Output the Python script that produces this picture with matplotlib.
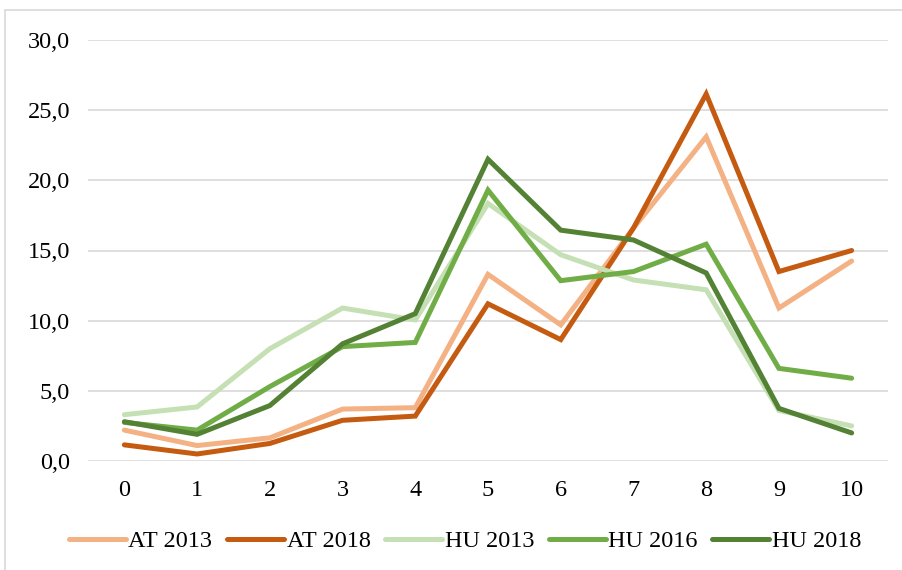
import matplotlib.pyplot as plt
from matplotlib.patches import Rectangle
from matplotlib.ticker import FuncFormatter

plt.rcParams['font.family'] = ['Liberation Serif', 'DejaVu Serif']

x = list(range(11))
at_2013 = [2.2, 1.1, 1.65, 3.7, 3.8, 13.3, 9.7, 16.6, 23.1, 10.9, 14.25]
at_2018 = [1.15, 0.5, 1.25, 2.9, 3.2, 11.2, 8.65, 16.6, 26.15, 13.5, 15.0]
hu_2013 = [3.3, 3.85, 8.0, 10.9, 10.05, 18.35, 14.7, 12.9, 12.2, 3.6, 2.5]
hu_2016 = [2.75, 2.2, 5.3, 8.15, 8.45, 19.3, 12.85, 13.5, 15.45, 6.6, 5.9]
hu_2018 = [2.8, 1.9, 3.95, 8.35, 10.5, 21.5, 16.45, 15.75, 13.4, 3.75, 2.0]

series = [
    ("AT 2013", at_2013, "#F4B183"),
    ("AT 2018", at_2018, "#C55A11"),
    ("HU 2013", hu_2013, "#C5E0B4"),
    ("HU 2016", hu_2016, "#70AD47"),
    ("HU 2018", hu_2018, "#548235"),
]

fig = plt.figure(figsize=(9.03, 5.70), dpi=100)
ax = fig.add_axes([88 / 903, 109 / 570, 800 / 903, 421 / 570])

# outer chart frame
fig.patches.append(Rectangle((5 / 903, -0.1), 1.2, (560 / 570) + 0.1,
                             transform=fig.transFigure, fill=False,
                             edgecolor="#D9D9D9", lw=1.2))

for name, vals, col in series:
    ax.plot(x, vals, color=col, lw=3.6, label=name, solid_capstyle="round",
            solid_joinstyle="miter")

ax.set_xlim(-0.5, 10.5)
ax.set_ylim(0, 30)
ax.set_xticks(x)
ax.set_yticks(range(0, 31, 5))
ax.yaxis.set_major_formatter(FuncFormatter(lambda v, p: f"{v:.1f}".replace(".", ",")))
ax.grid(axis="y", color="#D9D9D9", lw=1.2)
ax.set_axisbelow(True)
for s in ax.spines.values():
    s.set_visible(False)
ax.tick_params(length=0, labelsize=17.5, colors="black")
ax.tick_params(axis="y", pad=13)
ax.tick_params(axis="x", pad=14)

fig.legend(loc="center", bbox_to_anchor=(0.515, 29 / 570), ncol=5,
           frameon=False, fontsize=17.5, handlelength=2.35, handletextpad=0.1,
           columnspacing=0.6)

fig.savefig("out.png", dpi=100)
